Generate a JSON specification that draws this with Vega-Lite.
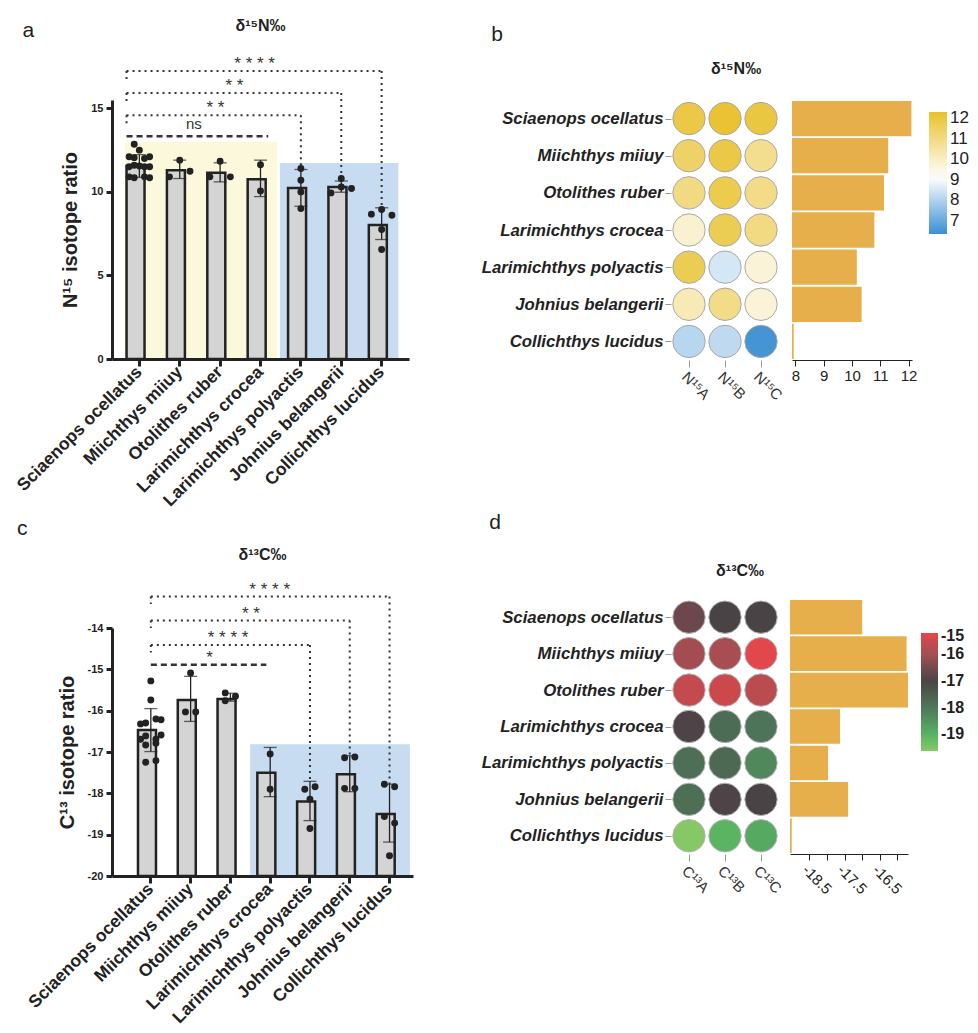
{
  "$schema": "https://vega.github.io/schema/vega-lite/v6.json",
  "padding": {"left": 13, "top": 18, "right": 5, "bottom": 2},
  "config": {
    "font": "Liberation Sans",
    "view": {"stroke": null},
    "axis": {"grid": false, "labelColor": "#222", "domainColor": "#222", "tickColor": "#222", "titleColor": "#222"},
    "axisXBand": {"domainWidth": 3, "tickWidth": 3, "tickSize": 7},
    "axisYQuantitative": {"domainWidth": 3, "tickWidth": 3, "tickSize": 6},
    "title": {"color": "#222"},
    "legend": {"labelColor": "#222"}
  },
  "datasets": {
    "nSum": [
      {"species": "Sciaenops ocellatus", "mean": 11.55, "lo": 10.87, "hi": 12.23},
      {"species": "Miichthys miiuy", "mean": 11.3, "lo": 10.8, "hi": 11.9},
      {"species": "Otolithes ruber", "mean": 11.14, "lo": 10.6, "hi": 11.74},
      {"species": "Larimichthys crocea", "mean": 10.76, "lo": 9.72, "hi": 11.9},
      {"species": "Larimichthys polyactis", "mean": 10.24, "lo": 9.14, "hi": 11.34},
      {"species": "Johnius belangerii", "mean": 10.3, "lo": 9.98, "hi": 10.65},
      {"species": "Collichthys lucidus", "mean": 8.02, "lo": 7.15, "hi": 9.05}
    ],
    "nPts": [
      {"species": "Sciaenops ocellatus", "rep": 2, "value": 12.85},
      {"species": "Sciaenops ocellatus", "rep": 3, "value": 12.5},
      {"species": "Sciaenops ocellatus", "rep": 1, "value": 12.1},
      {"species": "Sciaenops ocellatus", "rep": 2, "value": 12.05},
      {"species": "Sciaenops ocellatus", "rep": 4, "value": 12.0},
      {"species": "Sciaenops ocellatus", "rep": 5, "value": 12.1},
      {"species": "Sciaenops ocellatus", "rep": 1, "value": 11.5},
      {"species": "Sciaenops ocellatus", "rep": 2, "value": 11.6},
      {"species": "Sciaenops ocellatus", "rep": 3, "value": 11.55},
      {"species": "Sciaenops ocellatus", "rep": 4, "value": 11.5},
      {"species": "Sciaenops ocellatus", "rep": 5, "value": 11.5},
      {"species": "Sciaenops ocellatus", "rep": 1, "value": 10.9},
      {"species": "Sciaenops ocellatus", "rep": 2, "value": 10.85},
      {"species": "Sciaenops ocellatus", "rep": 4, "value": 10.9},
      {"species": "Sciaenops ocellatus", "rep": 5, "value": 10.85},
      {"species": "Miichthys miiuy", "rep": 1, "value": 10.9},
      {"species": "Miichthys miiuy", "rep": 3, "value": 11.9},
      {"species": "Miichthys miiuy", "rep": 5, "value": 11.24},
      {"species": "Otolithes ruber", "rep": 1, "value": 10.9},
      {"species": "Otolithes ruber", "rep": 3, "value": 11.83},
      {"species": "Otolithes ruber", "rep": 5, "value": 10.9},
      {"species": "Larimichthys crocea", "rep": 3, "value": 11.63},
      {"species": "Larimichthys crocea", "rep": 3, "value": 10.06},
      {"species": "Larimichthys polyactis", "rep": 3, "value": 11.4},
      {"species": "Larimichthys polyactis", "rep": 3, "value": 10.7},
      {"species": "Larimichthys polyactis", "rep": 3, "value": 10.0},
      {"species": "Larimichthys polyactis", "rep": 3, "value": 9.0},
      {"species": "Johnius belangerii", "rep": 1, "value": 9.94},
      {"species": "Johnius belangerii", "rep": 3, "value": 10.8},
      {"species": "Johnius belangerii", "rep": 3, "value": 10.3},
      {"species": "Johnius belangerii", "rep": 5, "value": 10.2},
      {"species": "Collichthys lucidus", "rep": 1, "value": 8.67},
      {"species": "Collichthys lucidus", "rep": 3, "value": 8.95},
      {"species": "Collichthys lucidus", "rep": 5, "value": 8.6},
      {"species": "Collichthys lucidus", "rep": 3, "value": 7.75},
      {"species": "Collichthys lucidus", "rep": 3, "value": 6.55}
    ],
    "nBg": [
      {"grp": "hi", "from": "Sciaenops ocellatus", "to": "Larimichthys crocea", "top": 13.0},
      {"grp": "lo", "from": "Larimichthys polyactis", "to": "Collichthys lucidus", "top": 11.73}
    ],
    "nBr": [
      {"from": "Sciaenops ocellatus", "to": "Larimichthys polyactis", "yb": 14.58, "drop": 11.34, "tick": 14.0, "label": "* *"},
      {"from": "Sciaenops ocellatus", "to": "Johnius belangerii", "yb": 15.92, "drop": 10.9, "tick": 15.34, "label": "* *"},
      {"from": "Sciaenops ocellatus", "to": "Collichthys lucidus", "yb": 17.23, "drop": 9.15, "tick": 16.65, "label": "* * * *"}
    ],
    "nNs": [
      {"from": "Sciaenops ocellatus", "to": "Larimichthys crocea", "at": "Miichthys miiuy", "yb": 13.33, "label": "ns"}
    ],
    "cSum": [
      {"species": "Sciaenops ocellatus", "mean": -16.47, "lo": -16.99, "hi": -15.95},
      {"species": "Miichthys miiuy", "mean": -15.74, "lo": -16.26, "hi": -15.17},
      {"species": "Otolithes ruber", "mean": -15.72, "lo": -15.77, "hi": -15.58},
      {"species": "Larimichthys crocea", "mean": -17.5, "lo": -18.08, "hi": -16.89},
      {"species": "Larimichthys polyactis", "mean": -18.2, "lo": -18.66, "hi": -17.71},
      {"species": "Johnius belangerii", "mean": -17.54, "lo": -17.96, "hi": -17.09},
      {"species": "Collichthys lucidus", "mean": -18.5, "lo": -19.18, "hi": -17.78}
    ],
    "cPts": [
      {"species": "Sciaenops ocellatus", "rep": 3, "value": -15.28},
      {"species": "Sciaenops ocellatus", "rep": 3, "value": -15.74},
      {"species": "Sciaenops ocellatus", "rep": 1, "value": -16.32},
      {"species": "Sciaenops ocellatus", "rep": 2, "value": -16.3},
      {"species": "Sciaenops ocellatus", "rep": 4, "value": -16.2},
      {"species": "Sciaenops ocellatus", "rep": 5, "value": -16.22},
      {"species": "Sciaenops ocellatus", "rep": 1, "value": -16.69},
      {"species": "Sciaenops ocellatus", "rep": 2, "value": -16.61},
      {"species": "Sciaenops ocellatus", "rep": 4, "value": -16.69},
      {"species": "Sciaenops ocellatus", "rep": 5, "value": -16.59},
      {"species": "Sciaenops ocellatus", "rep": 2, "value": -16.83},
      {"species": "Sciaenops ocellatus", "rep": 4, "value": -16.79},
      {"species": "Sciaenops ocellatus", "rep": 2, "value": -17.25},
      {"species": "Sciaenops ocellatus", "rep": 4, "value": -17.21},
      {"species": "Miichthys miiuy", "rep": 3, "value": -15.09},
      {"species": "Miichthys miiuy", "rep": 2, "value": -16.03},
      {"species": "Miichthys miiuy", "rep": 4, "value": -16.03},
      {"species": "Otolithes ruber", "rep": 2, "value": -15.57},
      {"species": "Otolithes ruber", "rep": 2, "value": -15.76},
      {"species": "Otolithes ruber", "rep": 4, "value": -15.65},
      {"species": "Larimichthys crocea", "rep": 3, "value": -17.05},
      {"species": "Larimichthys crocea", "rep": 3, "value": -17.9},
      {"species": "Larimichthys polyactis", "rep": 2, "value": -17.9},
      {"species": "Larimichthys polyactis", "rep": 4, "value": -17.84},
      {"species": "Larimichthys polyactis", "rep": 3, "value": -18.14},
      {"species": "Larimichthys polyactis", "rep": 3, "value": -18.85},
      {"species": "Johnius belangerii", "rep": 2, "value": -17.14},
      {"species": "Johnius belangerii", "rep": 4, "value": -17.12},
      {"species": "Johnius belangerii", "rep": 2, "value": -17.88},
      {"species": "Johnius belangerii", "rep": 4, "value": -17.88},
      {"species": "Collichthys lucidus", "rep": 2, "value": -17.78},
      {"species": "Collichthys lucidus", "rep": 4, "value": -17.84},
      {"species": "Collichthys lucidus", "rep": 2, "value": -18.56},
      {"species": "Collichthys lucidus", "rep": 4, "value": -18.72},
      {"species": "Collichthys lucidus", "rep": 3, "value": -19.51}
    ],
    "cBg": [
      {"grp": "lo", "from": "Larimichthys crocea", "to": "Collichthys lucidus", "top": -16.81}
    ],
    "cBr": [
      {"from": "Sciaenops ocellatus", "to": "Larimichthys polyactis", "yb": -14.41, "drop": -17.71, "tick": -14.59, "label": "* * * *"},
      {"from": "Sciaenops ocellatus", "to": "Johnius belangerii", "yb": -13.82, "drop": -17.09, "tick": -14.0, "label": "* *"},
      {"from": "Sciaenops ocellatus", "to": "Collichthys lucidus", "yb": -13.24, "drop": -17.78, "tick": -13.42, "label": "* * * *"}
    ],
    "cNs": [
      {"from": "Sciaenops ocellatus", "to": "Larimichthys crocea", "at": "Miichthys miiuy", "yb": -14.89, "label": "*"}
    ],
    "nHeat": [
      {"species": "Sciaenops ocellatus", "sample": "N¹⁵A", "value": 11.9},
      {"species": "Sciaenops ocellatus", "sample": "N¹⁵B", "value": 12.2},
      {"species": "Sciaenops ocellatus", "sample": "N¹⁵C", "value": 12.0},
      {"species": "Miichthys miiuy", "sample": "N¹⁵A", "value": 11.4},
      {"species": "Miichthys miiuy", "sample": "N¹⁵B", "value": 11.9},
      {"species": "Miichthys miiuy", "sample": "N¹⁵C", "value": 10.8},
      {"species": "Otolithes ruber", "sample": "N¹⁵A", "value": 11.0},
      {"species": "Otolithes ruber", "sample": "N¹⁵B", "value": 11.8},
      {"species": "Otolithes ruber", "sample": "N¹⁵C", "value": 10.9},
      {"species": "Larimichthys crocea", "sample": "N¹⁵A", "value": 9.8},
      {"species": "Larimichthys crocea", "sample": "N¹⁵B", "value": 11.7},
      {"species": "Larimichthys crocea", "sample": "N¹⁵C", "value": 11.0},
      {"species": "Larimichthys polyactis", "sample": "N¹⁵A", "value": 11.7},
      {"species": "Larimichthys polyactis", "sample": "N¹⁵B", "value": 8.5},
      {"species": "Larimichthys polyactis", "sample": "N¹⁵C", "value": 9.7},
      {"species": "Johnius belangerii", "sample": "N¹⁵A", "value": 10.2},
      {"species": "Johnius belangerii", "sample": "N¹⁵B", "value": 10.9},
      {"species": "Johnius belangerii", "sample": "N¹⁵C", "value": 9.7},
      {"species": "Collichthys lucidus", "sample": "N¹⁵A", "value": 8.1},
      {"species": "Collichthys lucidus", "sample": "N¹⁵B", "value": 8.2},
      {"species": "Collichthys lucidus", "sample": "N¹⁵C", "value": 6.5}
    ],
    "nBar": [
      {"species": "Sciaenops ocellatus", "value": 12.1},
      {"species": "Miichthys miiuy", "value": 11.28},
      {"species": "Otolithes ruber", "value": 11.13},
      {"species": "Larimichthys crocea", "value": 10.79},
      {"species": "Larimichthys polyactis", "value": 10.17},
      {"species": "Johnius belangerii", "value": 10.34},
      {"species": "Collichthys lucidus", "value": 7.94}
    ],
    "cHeat": [
      {"species": "Sciaenops ocellatus", "sample": "C¹³A", "value": -16.6},
      {"species": "Sciaenops ocellatus", "sample": "C¹³B", "value": -17.0},
      {"species": "Sciaenops ocellatus", "sample": "C¹³C", "value": -17.0},
      {"species": "Miichthys miiuy", "sample": "C¹³A", "value": -15.95},
      {"species": "Miichthys miiuy", "sample": "C¹³B", "value": -15.9},
      {"species": "Miichthys miiuy", "sample": "C¹³C", "value": -15.25},
      {"species": "Otolithes ruber", "sample": "C¹³A", "value": -15.6},
      {"species": "Otolithes ruber", "sample": "C¹³B", "value": -15.5},
      {"species": "Otolithes ruber", "sample": "C¹³C", "value": -15.7},
      {"species": "Larimichthys crocea", "sample": "C¹³A", "value": -16.95},
      {"species": "Larimichthys crocea", "sample": "C¹³B", "value": -17.8},
      {"species": "Larimichthys crocea", "sample": "C¹³C", "value": -17.95},
      {"species": "Larimichthys polyactis", "sample": "C¹³A", "value": -17.85},
      {"species": "Larimichthys polyactis", "sample": "C¹³B", "value": -17.75},
      {"species": "Larimichthys polyactis", "sample": "C¹³C", "value": -18.3},
      {"species": "Johnius belangerii", "sample": "C¹³A", "value": -17.85},
      {"species": "Johnius belangerii", "sample": "C¹³B", "value": -16.95},
      {"species": "Johnius belangerii", "sample": "C¹³C", "value": -17.0},
      {"species": "Collichthys lucidus", "sample": "C¹³A", "value": -19.6},
      {"species": "Collichthys lucidus", "sample": "C¹³B", "value": -19.05},
      {"species": "Collichthys lucidus", "sample": "C¹³C", "value": -18.85}
    ],
    "cBar": [
      {"species": "Sciaenops ocellatus", "value": -17.0},
      {"species": "Miichthys miiuy", "value": -15.74},
      {"species": "Otolithes ruber", "value": -15.7},
      {"species": "Larimichthys crocea", "value": -17.63},
      {"species": "Larimichthys polyactis", "value": -17.97},
      {"species": "Johnius belangerii", "value": -17.4},
      {"species": "Collichthys lucidus", "value": -19.0}
    ]
  },
  "spacing": 68,
  "resolve": {"scale": {"color": "independent"}},
  "hconcat": [
    {
      "spacing": 7,
      "vconcat": [
        {
          "title": {"text": "a", "anchor": "start", "fontSize": 21, "fontWeight": "normal", "offset": -23, "dx": 9},
          "vconcat": [
            {
              "title": {"text": "δ¹⁵N‰", "anchor": "middle", "fontSize": 16, "fontWeight": "bold", "frame": "group", "offset": 21},
              "width": 297,
              "height": 259,
              "layer": [
                {
                  "data": {"name": "nBg"},
                  "transform": [{"filter": "datum.grp == 'hi'"}],
                  "mark": {"type": "rect", "color": "#fcf8dc"},
                  "encoding": {
                    "x": {"field": "from", "type": "nominal", "title": null, "scale": {"domain": ["Sciaenops ocellatus", "Miichthys miiuy", "Otolithes ruber", "Larimichthys crocea", "Larimichthys polyactis", "Johnius belangerii", "Collichthys lucidus"]}, "bandPosition": -0.07},
                    "x2": {"field": "to", "bandPosition": 1.15},
                    "y": {"field": "top", "type": "quantitative", "title": "N¹⁵ isotope ratio", "scale": {"domain": [0, 15.5], "nice": false}},
                    "y2": {"datum": 0}
                  }
                },
                {
                  "data": {"name": "nBg"},
                  "transform": [{"filter": "datum.grp == 'lo'"}],
                  "mark": {"type": "rect", "color": "#c7dcf1"},
                  "encoding": {
                    "x": {"field": "from", "type": "nominal", "title": null, "scale": {"domain": ["Sciaenops ocellatus", "Miichthys miiuy", "Otolithes ruber", "Larimichthys crocea", "Larimichthys polyactis", "Johnius belangerii", "Collichthys lucidus"]}, "bandPosition": -0.32},
                    "x2": {"field": "to", "bandPosition": 1.15},
                    "y": {"field": "top", "type": "quantitative", "title": "N¹⁵ isotope ratio", "scale": {"domain": [0, 15.5], "nice": false}},
                    "y2": {"datum": 0}
                  }
                },
                {
                  "data": {"name": "nSum"},
                  "mark": {"type": "bar", "fill": "#d4d4d4", "stroke": "#222", "strokeWidth": 2.5},
                  "encoding": {
                    "x": {"field": "species", "type": "nominal", "title": null, "scale": {"domain": ["Sciaenops ocellatus", "Miichthys miiuy", "Otolithes ruber", "Larimichthys crocea", "Larimichthys polyactis", "Johnius belangerii", "Collichthys lucidus"], "paddingInner": 0.365, "paddingOuter": 0.36},
                      "axis": {"labelAngle": -45, "labelFontSize": 17.5, "labelFontWeight": "bold", "domainWidth": 3, "tickWidth": 3, "tickSize": 7, "labelPadding": 3, "labelLimit": 300, "zindex": 1}},
                    "y": {"field": "mean", "type": "quantitative", "title": "N¹⁵ isotope ratio", "scale": {"domain": [0, 15.5], "nice": false},
                      "axis": {"titleFontSize": 20, "titleFontWeight": "bold", "titlePadding": 10, "labelFontSize": 11, "labelFontWeight": "bold", "domainWidth": 3, "tickWidth": 3, "tickSize": 6, "values": [0, 5, 10, 15], "labelPadding": 3, "zindex": 1}}
                  }
                },
                {
                  "data": {"name": "nSum"},
                  "mark": {"type": "rule", "color": "#222", "strokeWidth": 1.3},
                  "encoding": {
                    "x": {"field": "species", "type": "nominal", "title": null, "scale": {"domain": ["Sciaenops ocellatus", "Miichthys miiuy", "Otolithes ruber", "Larimichthys crocea", "Larimichthys polyactis", "Johnius belangerii", "Collichthys lucidus"]}},
                    "y": {"field": "lo", "type": "quantitative", "title": "N¹⁵ isotope ratio", "scale": {"domain": [0, 15.5], "nice": false}},
                    "y2": {"field": "hi"}
                  }
                },
                {
                  "data": {"name": "nSum"},
                  "mark": {"type": "tick", "color": "#222", "size": 13, "thickness": 1.3},
                  "encoding": {
                    "x": {"field": "species", "type": "nominal", "title": null, "scale": {"domain": ["Sciaenops ocellatus", "Miichthys miiuy", "Otolithes ruber", "Larimichthys crocea", "Larimichthys polyactis", "Johnius belangerii", "Collichthys lucidus"]}},
                    "y": {"field": "hi", "type": "quantitative", "title": "N¹⁵ isotope ratio", "scale": {"domain": [0, 15.5], "nice": false}}
                  }
                },
                {
                  "data": {"name": "nSum"},
                  "mark": {"type": "tick", "color": "#222", "size": 13, "thickness": 1.3},
                  "encoding": {
                    "x": {"field": "species", "type": "nominal", "title": null, "scale": {"domain": ["Sciaenops ocellatus", "Miichthys miiuy", "Otolithes ruber", "Larimichthys crocea", "Larimichthys polyactis", "Johnius belangerii", "Collichthys lucidus"]}},
                    "y": {"field": "lo", "type": "quantitative", "title": "N¹⁵ isotope ratio", "scale": {"domain": [0, 15.5], "nice": false}}
                  }
                },
                {
                  "data": {"name": "nPts"},
                  "mark": {"type": "circle", "color": "#222", "size": 48, "opacity": 1},
                  "encoding": {
                    "x": {"field": "species", "type": "nominal", "title": null, "scale": {"domain": ["Sciaenops ocellatus", "Miichthys miiuy", "Otolithes ruber", "Larimichthys crocea", "Larimichthys polyactis", "Johnius belangerii", "Collichthys lucidus"]}},
                    "xOffset": {"field": "rep", "type": "ordinal", "scale": {"domain": [1, 2, 3, 4, 5]}},
                    "y": {"field": "value", "type": "quantitative", "title": "N¹⁵ isotope ratio", "scale": {"domain": [0, 15.5], "nice": false}}
                  }
                },
                {
                  "data": {"name": "nNs"},
                  "mark": {"type": "rule", "color": "#333", "strokeWidth": 2.5, "strokeDash": [6, 4]},
                  "encoding": {
                    "x": {"field": "from", "type": "nominal", "title": null, "bandPosition": 0, "scale": {"domain": ["Sciaenops ocellatus", "Miichthys miiuy", "Otolithes ruber", "Larimichthys crocea", "Larimichthys polyactis", "Johnius belangerii", "Collichthys lucidus"]}},
                    "x2": {"field": "to", "bandPosition": 0.8},
                    "y": {"field": "yb", "type": "quantitative", "title": "N¹⁵ isotope ratio", "scale": {"domain": [0, 15.5], "nice": false}}
                  }
                },
                {
                  "data": {"name": "nBr"},
                  "mark": {"type": "rule", "color": "#333", "strokeWidth": 2, "strokeDash": [2, 4]},
                  "encoding": {
                    "x": {"field": "from", "type": "nominal", "title": null, "bandPosition": 0, "scale": {"domain": ["Sciaenops ocellatus", "Miichthys miiuy", "Otolithes ruber", "Larimichthys crocea", "Larimichthys polyactis", "Johnius belangerii", "Collichthys lucidus"]}},
                    "x2": {"field": "to", "bandPosition": 0.5},
                    "y": {"field": "yb", "type": "quantitative", "title": "N¹⁵ isotope ratio", "scale": {"domain": [0, 15.5], "nice": false}}
                  }
                },
                {
                  "data": {"name": "nBr"},
                  "mark": {"type": "rule", "color": "#333", "strokeWidth": 2, "strokeDash": [2, 4]},
                  "encoding": {
                    "x": {"field": "to", "type": "nominal", "title": null, "bandPosition": 0.5, "scale": {"domain": ["Sciaenops ocellatus", "Miichthys miiuy", "Otolithes ruber", "Larimichthys crocea", "Larimichthys polyactis", "Johnius belangerii", "Collichthys lucidus"]}},
                    "y": {"field": "yb", "type": "quantitative", "title": "N¹⁵ isotope ratio", "scale": {"domain": [0, 15.5], "nice": false}},
                    "y2": {"field": "drop"}
                  }
                },
                {
                  "data": {"name": "nBr"},
                  "mark": {"type": "rule", "color": "#333", "strokeWidth": 2, "strokeDash": [2, 4]},
                  "encoding": {
                    "x": {"field": "from", "type": "nominal", "title": null, "bandPosition": 0, "scale": {"domain": ["Sciaenops ocellatus", "Miichthys miiuy", "Otolithes ruber", "Larimichthys crocea", "Larimichthys polyactis", "Johnius belangerii", "Collichthys lucidus"]}},
                    "y": {"field": "yb", "type": "quantitative", "title": "N¹⁵ isotope ratio", "scale": {"domain": [0, 15.5], "nice": false}},
                    "y2": {"field": "tick"}
                  }
                },
                {
                  "data": {"name": "nNs"},
                  "mark": {"type": "text", "fontSize": 15, "color": "#333", "baseline": "alphabetic", "dy": -7},
                  "encoding": {
                    "x": {"field": "at", "type": "nominal", "title": null, "bandPosition": 1.05, "scale": {"domain": ["Sciaenops ocellatus", "Miichthys miiuy", "Otolithes ruber", "Larimichthys crocea", "Larimichthys polyactis", "Johnius belangerii", "Collichthys lucidus"]}},
                    "y": {"field": "yb", "type": "quantitative", "title": "N¹⁵ isotope ratio", "scale": {"domain": [0, 15.5], "nice": false}},
                    "text": {"field": "label"}
                  }
                },
                {
                  "data": {"name": "nBr"},
                  "transform": [{"filter": "datum.to == 'Larimichthys polyactis'"}],
                  "mark": {"type": "text", "fontSize": 17, "color": "#333", "baseline": "alphabetic", "dy": -2},
                  "encoding": {
                    "x": {"datum": "Otolithes ruber", "type": "nominal", "title": null, "bandPosition": 0.32, "scale": {"domain": ["Sciaenops ocellatus", "Miichthys miiuy", "Otolithes ruber", "Larimichthys crocea", "Larimichthys polyactis", "Johnius belangerii", "Collichthys lucidus"]}},
                    "y": {"field": "yb", "type": "quantitative", "title": "N¹⁵ isotope ratio", "scale": {"domain": [0, 15.5], "nice": false}},
                    "text": {"field": "label"}
                  }
                },
                {
                  "data": {"name": "nBr"},
                  "transform": [{"filter": "datum.to == 'Johnius belangerii'"}],
                  "mark": {"type": "text", "fontSize": 17, "color": "#333", "baseline": "alphabetic", "dy": -2},
                  "encoding": {
                    "x": {"datum": "Otolithes ruber", "type": "nominal", "title": null, "bandPosition": 1.06, "scale": {"domain": ["Sciaenops ocellatus", "Miichthys miiuy", "Otolithes ruber", "Larimichthys crocea", "Larimichthys polyactis", "Johnius belangerii", "Collichthys lucidus"]}},
                    "y": {"field": "yb", "type": "quantitative", "title": "N¹⁵ isotope ratio", "scale": {"domain": [0, 15.5], "nice": false}},
                    "text": {"field": "label"}
                  }
                },
                {
                  "data": {"name": "nBr"},
                  "transform": [{"filter": "datum.to == 'Collichthys lucidus'"}],
                  "mark": {"type": "text", "fontSize": 17, "color": "#333", "baseline": "alphabetic", "dy": -2},
                  "encoding": {
                    "x": {"datum": "Larimichthys crocea", "type": "nominal", "title": null, "bandPosition": 0.27, "scale": {"domain": ["Sciaenops ocellatus", "Miichthys miiuy", "Otolithes ruber", "Larimichthys crocea", "Larimichthys polyactis", "Johnius belangerii", "Collichthys lucidus"]}},
                    "y": {"field": "yb", "type": "quantitative", "title": "N¹⁵ isotope ratio", "scale": {"domain": [0, 15.5], "nice": false}},
                    "text": {"field": "label"}
                  }
                }
              ]
            }
          ]
        },
        {
          "title": {"text": "c", "anchor": "start", "fontSize": 21, "fontWeight": "normal", "offset": 8, "dx": -8},
          "vconcat": [
            {
              "title": {"text": "δ¹³C‰", "anchor": "middle", "fontSize": 16, "fontWeight": "bold", "frame": "group", "offset": 18},
              "width": 301,
              "height": 248,
              "layer": [
                {
                  "data": {"name": "cBg"},
                  "mark": {"type": "rect", "color": "#c7dcf1"},
                  "encoding": {
                    "x": {"field": "from", "type": "nominal", "title": null, "scale": {"domain": ["Sciaenops ocellatus", "Miichthys miiuy", "Otolithes ruber", "Larimichthys crocea", "Larimichthys polyactis", "Johnius belangerii", "Collichthys lucidus"]}, "bandPosition": -0.28},
                    "x2": {"field": "to", "bandPosition": 1.29},
                    "y": {"field": "top", "type": "quantitative", "title": "C¹³ isotope ratio", "scale": {"domain": [-20, -14], "nice": false, "zero": false}},
                    "y2": {"datum": -20}
                  }
                },
                {
                  "data": {"name": "cSum"},
                  "mark": {"type": "bar", "fill": "#d4d4d4", "stroke": "#222", "strokeWidth": 2.5},
                  "encoding": {
                    "x": {"field": "species", "type": "nominal", "title": null, "scale": {"domain": ["Sciaenops ocellatus", "Miichthys miiuy", "Otolithes ruber", "Larimichthys crocea", "Larimichthys polyactis", "Johnius belangerii", "Collichthys lucidus"], "paddingInner": 0.354, "paddingOuter": 0.46, "align": 0.71},
                      "axis": {"labelAngle": -45, "labelFontSize": 17.5, "labelFontWeight": "bold", "domainWidth": 3, "tickWidth": 3, "tickSize": 7, "labelPadding": 3, "labelLimit": 300, "zindex": 1}},
                    "y": {"field": "mean", "type": "quantitative", "title": "C¹³ isotope ratio", "scale": {"domain": [-20, -14], "nice": false, "zero": false},
                      "axis": {"titleFontSize": 20, "titleFontWeight": "bold", "titlePadding": 10, "labelFontSize": 11, "labelFontWeight": "bold", "domainWidth": 3, "tickWidth": 3, "tickSize": 6, "values": [-20, -19, -18, -17, -16, -15, -14], "labelPadding": 3, "labelExpr": "'-' + abs(datum.value)", "zindex": 1}},
                    "y2": {"datum": -20}
                  }
                },
                {
                  "data": {"name": "cSum"},
                  "mark": {"type": "rule", "color": "#222", "strokeWidth": 1.3},
                  "encoding": {
                    "x": {"field": "species", "type": "nominal", "title": null, "scale": {"domain": ["Sciaenops ocellatus", "Miichthys miiuy", "Otolithes ruber", "Larimichthys crocea", "Larimichthys polyactis", "Johnius belangerii", "Collichthys lucidus"]}},
                    "y": {"field": "lo", "type": "quantitative", "title": "C¹³ isotope ratio", "scale": {"domain": [-20, -14], "nice": false, "zero": false}},
                    "y2": {"field": "hi"}
                  }
                },
                {
                  "data": {"name": "cSum"},
                  "mark": {"type": "tick", "color": "#222", "size": 13, "thickness": 1.3},
                  "encoding": {
                    "x": {"field": "species", "type": "nominal", "title": null, "scale": {"domain": ["Sciaenops ocellatus", "Miichthys miiuy", "Otolithes ruber", "Larimichthys crocea", "Larimichthys polyactis", "Johnius belangerii", "Collichthys lucidus"]}},
                    "y": {"field": "hi", "type": "quantitative", "title": "C¹³ isotope ratio", "scale": {"domain": [-20, -14], "nice": false, "zero": false}}
                  }
                },
                {
                  "data": {"name": "cSum"},
                  "mark": {"type": "tick", "color": "#222", "size": 13, "thickness": 1.3},
                  "encoding": {
                    "x": {"field": "species", "type": "nominal", "title": null, "scale": {"domain": ["Sciaenops ocellatus", "Miichthys miiuy", "Otolithes ruber", "Larimichthys crocea", "Larimichthys polyactis", "Johnius belangerii", "Collichthys lucidus"]}},
                    "y": {"field": "lo", "type": "quantitative", "title": "C¹³ isotope ratio", "scale": {"domain": [-20, -14], "nice": false, "zero": false}}
                  }
                },
                {
                  "data": {"name": "cPts"},
                  "mark": {"type": "circle", "color": "#222", "size": 48, "opacity": 1},
                  "encoding": {
                    "x": {"field": "species", "type": "nominal", "title": null, "scale": {"domain": ["Sciaenops ocellatus", "Miichthys miiuy", "Otolithes ruber", "Larimichthys crocea", "Larimichthys polyactis", "Johnius belangerii", "Collichthys lucidus"]}},
                    "xOffset": {"field": "rep", "type": "ordinal", "scale": {"domain": [1, 2, 3, 4, 5]}},
                    "y": {"field": "value", "type": "quantitative", "title": "C¹³ isotope ratio", "scale": {"domain": [-20, -14], "nice": false, "zero": false}}
                  }
                },
                {
                  "data": {"name": "cNs"},
                  "mark": {"type": "rule", "color": "#333", "strokeWidth": 2.5, "strokeDash": [6, 4]},
                  "encoding": {
                    "x": {"field": "from", "type": "nominal", "title": null, "bandPosition": 0.5, "scale": {"domain": ["Sciaenops ocellatus", "Miichthys miiuy", "Otolithes ruber", "Larimichthys crocea", "Larimichthys polyactis", "Johnius belangerii", "Collichthys lucidus"]}},
                    "x2": {"field": "to", "bandPosition": 0.35},
                    "y": {"field": "yb", "type": "quantitative", "title": "C¹³ isotope ratio", "scale": {"domain": [-20, -14], "nice": false, "zero": false}}
                  }
                },
                {
                  "data": {"name": "cBr"},
                  "mark": {"type": "rule", "color": "#333", "strokeWidth": 2, "strokeDash": [2, 4]},
                  "encoding": {
                    "x": {"field": "from", "type": "nominal", "title": null, "bandPosition": 0.5, "scale": {"domain": ["Sciaenops ocellatus", "Miichthys miiuy", "Otolithes ruber", "Larimichthys crocea", "Larimichthys polyactis", "Johnius belangerii", "Collichthys lucidus"]}},
                    "x2": {"field": "to", "bandPosition": 0.5},
                    "y": {"field": "yb", "type": "quantitative", "title": "C¹³ isotope ratio", "scale": {"domain": [-20, -14], "nice": false, "zero": false}}
                  }
                },
                {
                  "data": {"name": "cBr"},
                  "mark": {"type": "rule", "color": "#333", "strokeWidth": 2, "strokeDash": [2, 4]},
                  "encoding": {
                    "x": {"field": "to", "type": "nominal", "title": null, "bandPosition": 0.5, "scale": {"domain": ["Sciaenops ocellatus", "Miichthys miiuy", "Otolithes ruber", "Larimichthys crocea", "Larimichthys polyactis", "Johnius belangerii", "Collichthys lucidus"]}},
                    "y": {"field": "yb", "type": "quantitative", "title": "C¹³ isotope ratio", "scale": {"domain": [-20, -14], "nice": false, "zero": false}},
                    "y2": {"field": "drop"}
                  }
                },
                {
                  "data": {"name": "cBr"},
                  "mark": {"type": "rule", "color": "#333", "strokeWidth": 2, "strokeDash": [2, 4]},
                  "encoding": {
                    "x": {"field": "from", "type": "nominal", "title": null, "bandPosition": 0.5, "scale": {"domain": ["Sciaenops ocellatus", "Miichthys miiuy", "Otolithes ruber", "Larimichthys crocea", "Larimichthys polyactis", "Johnius belangerii", "Collichthys lucidus"]}},
                    "y": {"field": "yb", "type": "quantitative", "title": "C¹³ isotope ratio", "scale": {"domain": [-20, -14], "nice": false, "zero": false}},
                    "y2": {"field": "tick"}
                  }
                },
                {
                  "data": {"name": "cNs"},
                  "mark": {"type": "text", "fontSize": 17, "color": "#333", "baseline": "alphabetic", "dy": -2},
                  "encoding": {
                    "x": {"field": "at", "type": "nominal", "title": null, "bandPosition": 1.24, "scale": {"domain": ["Sciaenops ocellatus", "Miichthys miiuy", "Otolithes ruber", "Larimichthys crocea", "Larimichthys polyactis", "Johnius belangerii", "Collichthys lucidus"]}},
                    "y": {"field": "yb", "type": "quantitative", "title": "C¹³ isotope ratio", "scale": {"domain": [-20, -14], "nice": false, "zero": false}},
                    "text": {"field": "label"}
                  }
                },
                {
                  "data": {"name": "cBr"},
                  "transform": [{"filter": "datum.to == 'Larimichthys polyactis'"}],
                  "mark": {"type": "text", "fontSize": 17, "color": "#333", "baseline": "alphabetic", "dy": -2},
                  "encoding": {
                    "x": {"datum": "Otolithes ruber", "type": "nominal", "title": null, "bandPosition": 0.41, "scale": {"domain": ["Sciaenops ocellatus", "Miichthys miiuy", "Otolithes ruber", "Larimichthys crocea", "Larimichthys polyactis", "Johnius belangerii", "Collichthys lucidus"]}},
                    "y": {"field": "yb", "type": "quantitative", "title": "C¹³ isotope ratio", "scale": {"domain": [-20, -14], "nice": false, "zero": false}},
                    "text": {"field": "label"}
                  }
                },
                {
                  "data": {"name": "cBr"},
                  "transform": [{"filter": "datum.to == 'Johnius belangerii'"}],
                  "mark": {"type": "text", "fontSize": 17, "color": "#333", "baseline": "alphabetic", "dy": -2},
                  "encoding": {
                    "x": {"datum": "Otolithes ruber", "type": "nominal", "title": null, "bandPosition": 1.3, "scale": {"domain": ["Sciaenops ocellatus", "Miichthys miiuy", "Otolithes ruber", "Larimichthys crocea", "Larimichthys polyactis", "Johnius belangerii", "Collichthys lucidus"]}},
                    "y": {"field": "yb", "type": "quantitative", "title": "C¹³ isotope ratio", "scale": {"domain": [-20, -14], "nice": false, "zero": false}},
                    "text": {"field": "label"}
                  }
                },
                {
                  "data": {"name": "cBr"},
                  "transform": [{"filter": "datum.to == 'Collichthys lucidus'"}],
                  "mark": {"type": "text", "fontSize": 17, "color": "#333", "baseline": "alphabetic", "dy": -2},
                  "encoding": {
                    "x": {"datum": "Larimichthys crocea", "type": "nominal", "title": null, "bandPosition": 0.48, "scale": {"domain": ["Sciaenops ocellatus", "Miichthys miiuy", "Otolithes ruber", "Larimichthys crocea", "Larimichthys polyactis", "Johnius belangerii", "Collichthys lucidus"]}},
                    "y": {"field": "yb", "type": "quantitative", "title": "C¹³ isotope ratio", "scale": {"domain": [-20, -14], "nice": false, "zero": false}},
                    "text": {"field": "label"}
                  }
                }
              ]
            }
          ]
        }
      ]
    },
    {
      "spacing": 109,
      "resolve": {"scale": {"color": "independent"}},
      "vconcat": [
        {
          "title": {"text": "b", "anchor": "start", "fontSize": 21, "fontWeight": "normal", "offset": 16, "dx": 10},
          "resolve": {"scale": {"color": "independent"}},
          "vconcat": [
            {
              "title": {"text": "δ¹⁵N‰", "anchor": "middle", "fontSize": 16, "fontWeight": "bold", "offset": 23, "dx": 5},
              "spacing": 6,
              "hconcat": [
                {
                  "width": 108,
                  "height": 260,
                  "data": {"name": "nHeat"},
                  "mark": {"type": "circle", "size": 1050, "opacity": 1, "stroke": "#a8a8a8", "strokeWidth": 1},
                  "encoding": {
                    "x": {"field": "sample", "type": "nominal", "scale": {"padding": 0.5},
                      "axis": {"title": null, "labelAngle": 45, "labelFontSize": 15, "labelColor": "#333", "tickColor": "#999", "tickSize": 7, "domain": false, "labelPadding": 2}},
                    "y": {"field": "species", "type": "nominal", "sort": ["Sciaenops ocellatus", "Miichthys miiuy", "Otolithes ruber", "Larimichthys crocea", "Larimichthys polyactis", "Johnius belangerii", "Collichthys lucidus"], "scale": {"padding": 0.5},
                      "axis": {"title": null, "labelFontSize": 16.8, "labelFontWeight": "bold", "labelFontStyle": "italic", "tickColor": "#999", "tickSize": 6, "domain": false, "labelPadding": 2, "labelLimit": 300}},
                    "color": {"field": "value", "type": "quantitative",
                      "scale": {"domain": [6.35, 9.1, 12.3], "range": ["#3a8fd2", "#ffffff", "#e8c12c"], "interpolate": "rgb"},
                      "legend": {"title": null, "orient": "right", "offset": 0, "padding": 12, "gradientLength": 122, "gradientThickness": 18, "labelFontSize": 17, "values": [7, 8, 9, 10, 11, 12], "labelOffset": 3}}
                  }
                },
                {
                  "width": 120,
                  "height": 260,
                  "data": {"name": "nBar"},
                  "mark": {"type": "bar", "color": "#e7ae4c"},
                  "encoding": {
                    "y": {"field": "species", "type": "nominal", "sort": ["Sciaenops ocellatus", "Miichthys miiuy", "Otolithes ruber", "Larimichthys crocea", "Larimichthys polyactis", "Johnius belangerii", "Collichthys lucidus"], "scale": {"paddingInner": 0.05, "paddingOuter": 0.025}, "axis": null},
                    "x": {"field": "value", "type": "quantitative", "scale": {"domain": [7.88, 12.12], "nice": false, "zero": false},
                      "axis": {"title": null, "values": [8, 9, 10, 11, 12], "labelFontSize": 15, "tickSize": 6, "labelPadding": 2}},
                    "x2": {"datum": 7.88}
                  }
                }
              ]
            }
          ]
        },
        {
          "title": {"text": "d", "anchor": "start", "fontSize": 21, "fontWeight": "normal", "offset": 30, "dx": 8},
          "resolve": {"scale": {"color": "independent"}},
          "vconcat": [
            {
              "title": {"text": "δ¹³C‰", "anchor": "middle", "fontSize": 16, "fontWeight": "bold", "offset": 20, "dx": 0},
              "spacing": 6,
              "hconcat": [
                {
                  "width": 108,
                  "height": 255,
                  "data": {"name": "cHeat"},
                  "mark": {"type": "circle", "size": 1050, "opacity": 0.85, "stroke": "#a8a8a8", "strokeWidth": 1},
                  "encoding": {
                    "x": {"field": "sample", "type": "nominal", "scale": {"padding": 0.5},
                      "axis": {"title": null, "labelAngle": 45, "labelFontSize": 15, "labelColor": "#333", "tickColor": "#999", "tickSize": 7, "domain": false, "labelPadding": 2}},
                    "y": {"field": "species", "type": "nominal", "sort": ["Sciaenops ocellatus", "Miichthys miiuy", "Otolithes ruber", "Larimichthys crocea", "Larimichthys polyactis", "Johnius belangerii", "Collichthys lucidus"], "scale": {"padding": 0.5},
                      "axis": {"title": null, "labelFontSize": 16.8, "labelFontWeight": "bold", "labelFontStyle": "italic", "tickColor": "#999", "tickSize": 6, "domain": false, "labelPadding": 2, "labelLimit": 300}},
                    "color": {"field": "value", "type": "quantitative",
                      "scale": {"domain": [-19.62, -19, -18, -17, -16, -15.2], "range": ["#72c04b", "#3aa547", "#2f5f3c", "#2b2326", "#8f3036", "#e3262b"], "interpolate": "rgb"},
                      "legend": {"title": null, "orient": "right", "offset": -21, "padding": 34, "gradientLength": 118, "gradientThickness": 17, "labelFontSize": 16, "labelFontWeight": "bold", "values": [-19, -18, -17, -16, -15], "labelOffset": 3, "labelExpr": "'-' + abs(datum.value)"}}
                  }
                },
                {
                  "width": 118,
                  "height": 255,
                  "data": {"name": "cBar"},
                  "mark": {"type": "bar", "color": "#e7ae4c"},
                  "encoding": {
                    "y": {"field": "species", "type": "nominal", "sort": ["Sciaenops ocellatus", "Miichthys miiuy", "Otolithes ruber", "Larimichthys crocea", "Larimichthys polyactis", "Johnius belangerii", "Collichthys lucidus"], "scale": {"paddingInner": 0.05, "paddingOuter": 0.025}, "axis": null},
                    "x": {"field": "value", "type": "quantitative", "scale": {"domain": [-19.05, -15.7], "nice": false, "zero": false},
                      "axis": {"title": null, "values": [-18.5, -18, -17.5, -17, -16.5, -16], "labelAngle": 45, "labelFontSize": 15, "tickSize": 6, "labelPadding": 2,
                        "labelExpr": "datum.value == -18.5 || datum.value == -17.5 || datum.value == -16.5 ? '-' + format(abs(datum.value), '.1f') : ''"}},
                    "x2": {"datum": -19.05}
                  }
                }
              ]
            }
          ]
        }
      ]
    }
  ]
}
